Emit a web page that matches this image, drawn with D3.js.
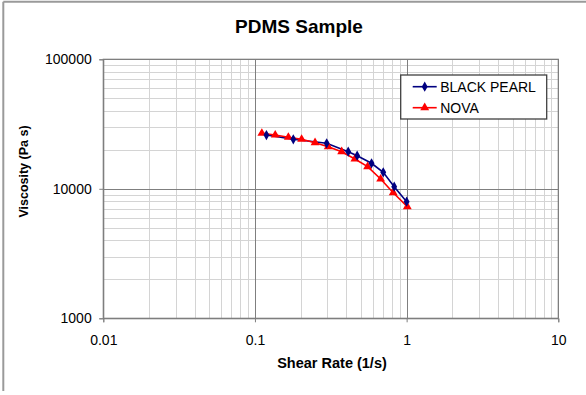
<!DOCTYPE html>
<html>
<head>
<meta charset="utf-8">
<script src="https://cdn.jsdelivr.net/npm/d3@7"></script>
<style>
  body { margin: 0; background: #fff; }
  svg { display: block; font-family: Arial, 'Liberation Sans', sans-serif; }
  .grid line { shape-rendering: crispEdges; }
  .grid path { display: none; }
</style>
</head>
<body>
<script>
// shear rate (1/s) and viscosity (Pa s)
const blackPearlRate = [0.119, 0.179, 0.297, 0.412, 0.472, 0.587, 0.701, 0.828, 1.0];
const blackPearlVisc = [26000, 24100, 22450, 19340, 18020, 15740, 13410, 10380, 7950];
const novaRate = [0.111, 0.136, 0.166, 0.203, 0.249, 0.304, 0.373, 0.456, 0.553, 0.674, 0.816, 1.01];
const novaVisc = [26840, 26020, 24990, 24120, 22690, 21140, 19340, 16990, 14820, 11900, 9330, 7280];

const xTicks = [0.01, 0.1, 1, 10];
const yTicks = [1000, 10000, 100000];
const seriesNames = ['BLACK PEARL', 'NOVA'];

const W = 586, H = 395;
const margin = { top: 59.3, right: 27.7, bottom: 76.7, left: 103.3 };
const width = W - margin.left - margin.right;
const height = H - margin.top - margin.bottom;

const x = d3.scaleLog().domain([0.01, 10]).range([0, width]);
const y = d3.scaleLog().domain([1000, 100000]).range([height, 0]);

// minor values 2..9 per decade
function minors(lo, hi) {
  let out = [];
  for (let d = lo; d < hi; d *= 10) {
    for (let k = 2; k <= 9; k++) out.push(d * k);
  }
  return out;
}

const svg = d3.select('body').append('svg')
  .attr('width', W)
  .attr('height', H);

// chart frame (only top and left edges show)
svg.append('line').attr('x1', 3.3).attr('x2', W).attr('y1', 1.7).attr('y2', 1.7)
  .attr('stroke', '#9a9a9a').attr('stroke-width', 2);
svg.append('line').attr('x1', 3.3).attr('x2', 3.3).attr('y1', 1.7).attr('y2', 391)
  .attr('stroke', '#9a9a9a').attr('stroke-width', 2);

svg.append('text')
  .attr('x', 299)
  .attr('y', 33)
  .attr('text-anchor', 'middle')
  .style('font-size', '19px')
  .style('font-weight', 'bold')
  .text('PDMS Sample');

const g = svg.append('g')
  .attr('transform', 'translate(' + margin.left + ',' + margin.top + ')');

// minor grid
g.append('g').attr('class', 'grid')
  .attr('transform', 'translate(0,' + height + ')')
  .call(d3.axisBottom(x).tickValues(minors(0.01, 10)).tickSize(-height).tickFormat(''))
  .selectAll('line').attr('stroke', '#d4d4d4');
g.append('g').attr('class', 'grid')
  .call(d3.axisLeft(y).tickValues(minors(1000, 100000)).tickSize(-width).tickFormat(''))
  .selectAll('line').attr('stroke', '#d4d4d4');

// major grid
g.append('g').attr('class', 'grid')
  .attr('transform', 'translate(0,' + height + ')')
  .call(d3.axisBottom(x).tickValues(xTicks).tickSize(-height).tickFormat(''))
  .selectAll('line').attr('stroke', '#7f7f7f');
g.append('g').attr('class', 'grid')
  .call(d3.axisLeft(y).tickValues(yTicks).tickSize(-width).tickFormat(''))
  .selectAll('line').attr('stroke', '#7f7f7f');

// plot border
g.append('rect')
  .attr('width', width)
  .attr('height', height)
  .attr('fill', 'none')
  .attr('stroke', '#7f7f7f')
  .attr('stroke-width', 1.2);

// axes
const xAxis = g.append('g')
  .attr('transform', 'translate(0,' + height + ')')
  .call(d3.axisBottom(x).tickValues(xTicks).tickSize(4).tickPadding(12.5)
    .tickFormat(d3.format('~g')));
const yAxis = g.append('g')
  .call(d3.axisLeft(y).tickValues(yTicks).tickSize(4).tickPadding(7.6)
    .tickFormat(d3.format('d')));

[xAxis, yAxis].forEach(function (a) {
  a.select('.domain').attr('stroke', '#7f7f7f');
  a.selectAll('.tick line').attr('stroke', '#7f7f7f');
  a.selectAll('text')
    .attr('fill', '#000')
    .style('font-size', '14px')
    .style('font-family', 'Arial, "Liberation Sans", sans-serif');
});

svg.append('text')
  .attr('x', 332)
  .attr('y', 368)
  .attr('text-anchor', 'middle')
  .style('font-size', '14.5px')
  .style('font-weight', 'bold')
  .text('Shear Rate (1/s)');

svg.append('text')
  .attr('transform', 'translate(28,171.5) rotate(-90)')
  .attr('text-anchor', 'middle')
  .style('font-size', '12.5px')
  .style('font-weight', 'bold')
  .text('Viscosity (Pa s)');

// series
const series = [
  { rate: blackPearlRate, visc: blackPearlVisc, color: '#000080', symbol: d3.symbolDiamond, size: 30 },
  { rate: novaRate, visc: novaVisc, color: '#ff0000', symbol: d3.symbolTriangle, size: 34 }
];

const line = d3.line()
  .x(function (d) { return x(d[0]); })
  .y(function (d) { return y(d[1]); });

series.forEach(function (s) {
  g.append('path')
    .datum(d3.zip(s.rate, s.visc))
    .attr('fill', 'none')
    .attr('stroke', s.color)
    .attr('stroke-width', 1.6)
    .attr('d', line);
});

// red markers first, blue diamonds sit on top
[series[1], series[0]].forEach(function (s) {
  g.selectAll(null)
    .data(d3.zip(s.rate, s.visc))
    .enter()
    .append('path')
    .attr('transform', function (d) {
      return 'translate(' + x(d[0]) + ',' + y(d[1]) + ')';
    })
    .attr('d', d3.symbol().type(s.symbol).size(s.size))
    .attr('fill', s.color);
});

// legend
const legend = svg.append('g').attr('transform', 'translate(400.7,75)');
legend.append('rect')
  .attr('width', 146)
  .attr('height', 44)
  .attr('fill', '#fff')
  .attr('stroke', '#404040')
  .attr('stroke-width', 1.3);

const item = legend.selectAll('.legend-item')
  .data(series)
  .enter()
  .append('g')
  .attr('class', 'legend-item')
  .attr('transform', function (d, i) {
    return 'translate(0,' + (11.7 + i * 21) + ')';
  });

item.append('line')
  .attr('x1', 12)
  .attr('x2', 36)
  .attr('stroke', function (d) { return d.color; })
  .attr('stroke-width', 1.6);

item.append('path')
  .attr('transform', 'translate(24,0)')
  .attr('d', function (d) { return d3.symbol().type(d.symbol).size(d.size)(); })
  .attr('fill', function (d) { return d.color; });

item.append('text')
  .attr('x', 39.5)
  .attr('dy', '0.36em')
  .style('font-size', '14px')
  .text(function (d, i) { return seriesNames[i]; });
</script>
</body>
</html>
